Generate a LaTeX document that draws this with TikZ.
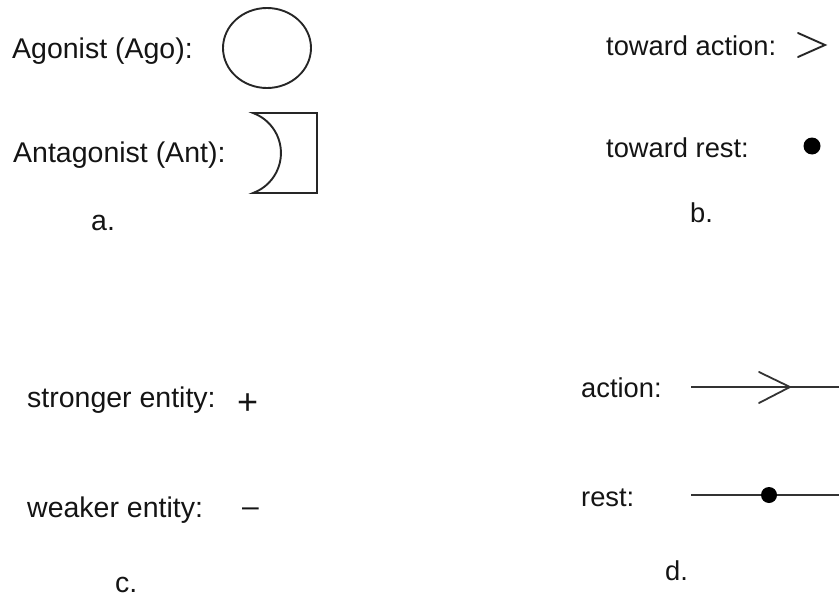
\documentclass[tikz,border=0pt]{standalone}
\usepackage{fontspec}
\setmainfont{Liberation Sans}
\begin{document}
\begin{tikzpicture}[x=1pt,y=-1pt,
  lblL/.style={anchor=base west,inner sep=0pt,font=\fontsize{28.5}{32}\selectfont,text=black!92},
  lblR/.style={anchor=base west,inner sep=0pt,font=\fontsize{27.3}{31}\selectfont,text=black!92},
  shapeline/.style={draw=black!85,line width=1.9pt},
  thinline/.style={draw=black!80,line width=1.8pt}]
\useasboundingbox (0,0) rectangle (839,597);
% a.
\node[lblL] (ago) at (12,58) {Agonist (Ago):};
\draw[shapeline] (267,48) ellipse[x radius=44,y radius=40];
\node[lblL] (ant) at (13,162) {Antagonist (Ant):};
\draw[shapeline,line join=miter] (253,113) arc[start angle=-69.9,end angle=69.9,radius=42.6]
  -- (317,193) -- (317,113) -- cycle;
\node[lblL] (la) at (91,230) {a.};
% b.
\node[lblR] (tact) at (606,55) {toward action:};
\draw[shapeline,line cap=round] (798,33) -- (825,45) -- (798,57);
\node[lblR] (trest) at (606,157) {toward rest:};
\fill[black] (812,146) circle[radius=8.5];
\node[lblR] (lb) at (690,222) {b.};
% c.
\node[lblL] (strong) at (27,407) {stronger entity:};
\node[lblL,font=\fontsize{36}{40}\selectfont] (plus) at (237,414.7) {+};
\node[lblL] (weak) at (27,517) {weaker entity:};
\node[lblL,font=\fontsize{30}{34}\selectfont] (minus) at (242,516) {–};
\node[lblL] (lc) at (115,592) {c.};
% d.
\node[lblR] (act) at (581,397) {action:};
\coordinate (a1) at (691,387);
\coordinate (a2) at (790,387);
\coordinate (a3) at (839,387);
\draw[thinline] (a1) -- (a3);
\draw[thinline,line cap=round] (759,372) -- (a2) -- (759,403);
\node[lblR] (rst) at (581,506) {rest:};
\coordinate (r1) at (691,495);
\coordinate (r2) at (769,495);
\coordinate (r3) at (839,495);
\draw[thinline] (r1) -- (r3);
\fill[black] (r2) circle[radius=8];
\node[lblR] (ld) at (665,580) {d.};
\end{tikzpicture}
\end{document}
